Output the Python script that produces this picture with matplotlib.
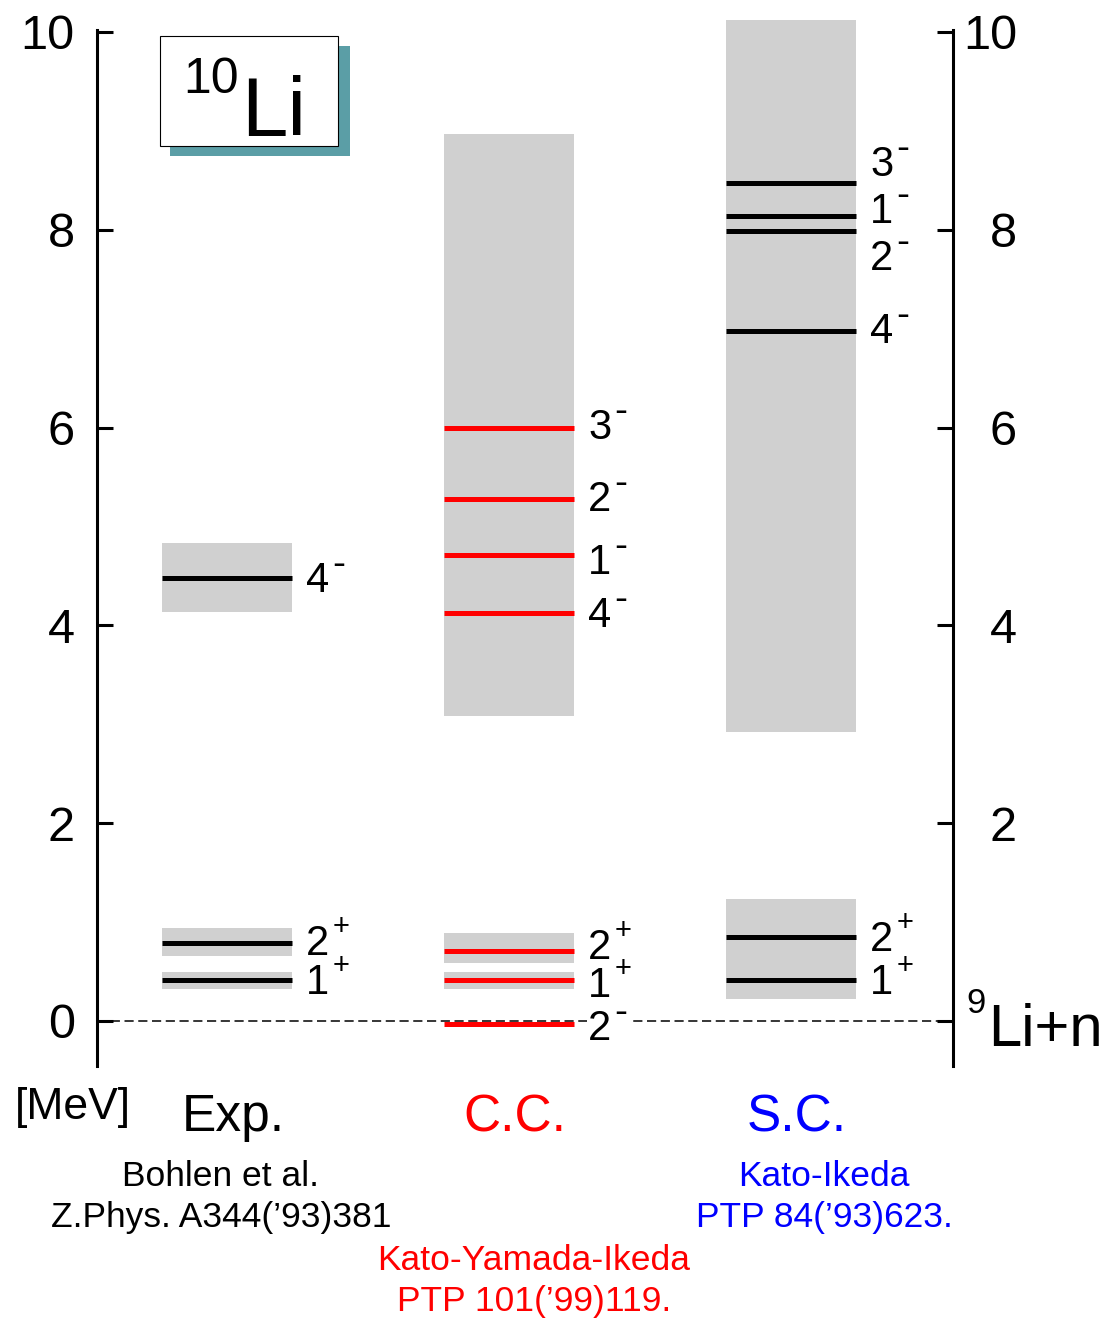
import numpy as np
import matplotlib.pyplot as plt
from matplotlib.patches import Rectangle

plt.rcParams['font.family'] = ['Liberation Sans', 'DejaVu Sans']

W, H, DPI = 1110, 1319, 100

# ---- data ----
columns = ['Exp.', 'C.C.', 'S.C.']
col_colors = ['black', 'red', 'blue']

exp_levels = [4.48, 0.79, 0.41]
exp_spin = ['4', '2', '1']
exp_parity = ['-', '+', '+']
exp_label_y = [4.49, 0.82, 0.42]
exp_bands = [(4.14, 4.83), (0.66, 0.94), (0.32, 0.50)]

cc_levels = [6.00, 5.28, 4.71, 4.13, 0.71, 0.41, -0.03]
cc_spin = ['3', '2', '1', '4', '2', '1', '2']
cc_parity = ['-', '-', '-', '-', '+', '+', '-']
cc_label_y = [6.04, 5.31, 4.67, 4.14, 0.78, 0.39, -0.04]
cc_bands = [(3.08, 8.97), (0.59, 0.89), (0.32, 0.50)]

sc_levels = [8.47, 8.14, 7.99, 6.98, 0.85, 0.41]
sc_spin = ['3', '1', '2', '4', '2', '1']
sc_parity = ['-', '-', '-', '-', '+', '+']
sc_label_y = [8.70, 8.22, 7.75, 7.01, 0.86, 0.42]
sc_bands = [(2.92, 10.12), (0.22, 1.23)]

yticks = [0, 2, 4, 6, 8, 10]
yticks_right = [2, 4, 6, 8, 10]

refs = [['Bohlen et al.', 'Z.Phys. A344(\u201993)381'],
        ['Kato-Yamada-Ikeda', 'PTP 101(\u201999)119.'],
        ['Kato-Ikeda', 'PTP 84(\u201993)623.']]

# ---- layout ----
col_x = [227, 509, 791]     # column centres (pixel-like x units)
box_w = 130
gray = '#d0d0d0'
pt = 72.0 / DPI             # pixels -> points


def fx(px):
    return px / W


def fy(py):
    return 1 - py / H


fig = plt.figure(figsize=(W / DPI, H / DPI), dpi=DPI)
ax = fig.add_axes([fx(97), fy(1066), fx(953) - fx(97), fy(30) - fy(1066)])
ax.set_xlim(97, 953)
ax.set_ylim(-0.455, 10.02)

for s in ['top', 'bottom']:
    ax.spines[s].set_visible(False)
for s in ['left', 'right']:
    ax.spines[s].set_linewidth(2.2)
ax.set_xticks([])
ax.set_yticks(yticks)
ax.tick_params(axis='y', direction='in', length=11.5, width=2.2,
               right=True, labelsize=35, pad=16)
for t in yticks_right:
    ax.text(1.0748, t, str(t), transform=ax.get_yaxis_transform(),
            ha='right', va='center_baseline', fontsize=35)

ax.axhline(0, color='black', lw=1.1, ls=(0, (6, 3)), zorder=2)

cols = [(exp_levels, exp_spin, exp_parity, exp_label_y, exp_bands, 'black'),
        (cc_levels, cc_spin, cc_parity, cc_label_y, cc_bands, 'red'),
        (sc_levels, sc_spin, sc_parity, sc_label_y, sc_bands, 'black')]

for x, (lev, spin, par, ly, bands, lc) in zip(col_x, cols):
    lo = np.array([b[0] for b in bands])
    hi = np.array([b[1] for b in bands])
    ax.bar([x] * len(bands), hi - lo, bottom=lo, width=box_w,
           color=gray, zorder=1, clip_on=False)
    ax.hlines(lev, x - box_w / 2, x + box_w / 2, color=lc, lw=3.6, zorder=3)
    xr = x + box_w / 2
    for s, p, y in zip(spin, par, ly):
        # white backing only where the label sits on the threshold line
        bb = dict(fc='white', ec='none', pad=1) if abs(y) < 0.2 else None
        ax.annotate(s, xy=(xr, y), xytext=(14 * pt, -15 * pt),
                    textcoords='offset points', ha='left', va='baseline',
                    fontsize=30, bbox=bb, zorder=4)
        if p == '-':
            ax.annotate(p, xy=(xr, y), xytext=(40 * pt, 2 * pt),
                        textcoords='offset points', ha='left',
                        va='baseline', fontsize=28, bbox=bb, zorder=4)
        else:
            ax.annotate(p, xy=(xr, y), xytext=(41 * pt, 5 * pt),
                        textcoords='offset points', ha='left',
                        va='baseline', fontsize=21, bbox=bb, zorder=4)

# ---- text below the axes ----
for x, name, c in zip(col_x, columns, col_colors):
    fig.text(fx(x + 6), fy(1131), name, color=c, fontsize=37,
             ha='center', va='baseline')
fig.text(fx(73), fy(1108), '[MeV]', fontsize=32, ha='center', va='center')

ref_pos = [(221, 1177), (534, 1261), (824, 1177)]
for (rx, ry), lines, c in zip(ref_pos, refs, col_colors):
    fig.text(fx(rx), fy(ry), lines[0], color=c, fontsize=25.5,
             ha='center', va='center')
    fig.text(fx(rx), fy(ry + 41), lines[1], color=c, fontsize=25.5,
             ha='center', va='center')

# threshold label
fig.text(fx(988), fy(1046), 'Li+n', fontsize=43, ha='left', va='baseline')
fig.text(fx(966), fy(1013), '9', fontsize=25, ha='left', va='baseline')

# title box
fig.patches.append(Rectangle((fx(170), fy(156)), fx(180), fy(0) - fy(110),
                             transform=fig.transFigure, fc='#5b9ea6',
                             ec='none', zorder=0))
fig.patches.append(Rectangle((fx(160), fy(146)), fx(178), fy(0) - fy(110),
                             transform=fig.transFigure, fc='white',
                             ec='black', lw=0.8, zorder=1))
fig.text(fx(241), fy(136), 'Li', fontsize=60, ha='left', va='baseline')
fig.text(fx(183), fy(93), '10', fontsize=36, ha='left', va='baseline')

fig.savefig('out.png', dpi=DPI)
